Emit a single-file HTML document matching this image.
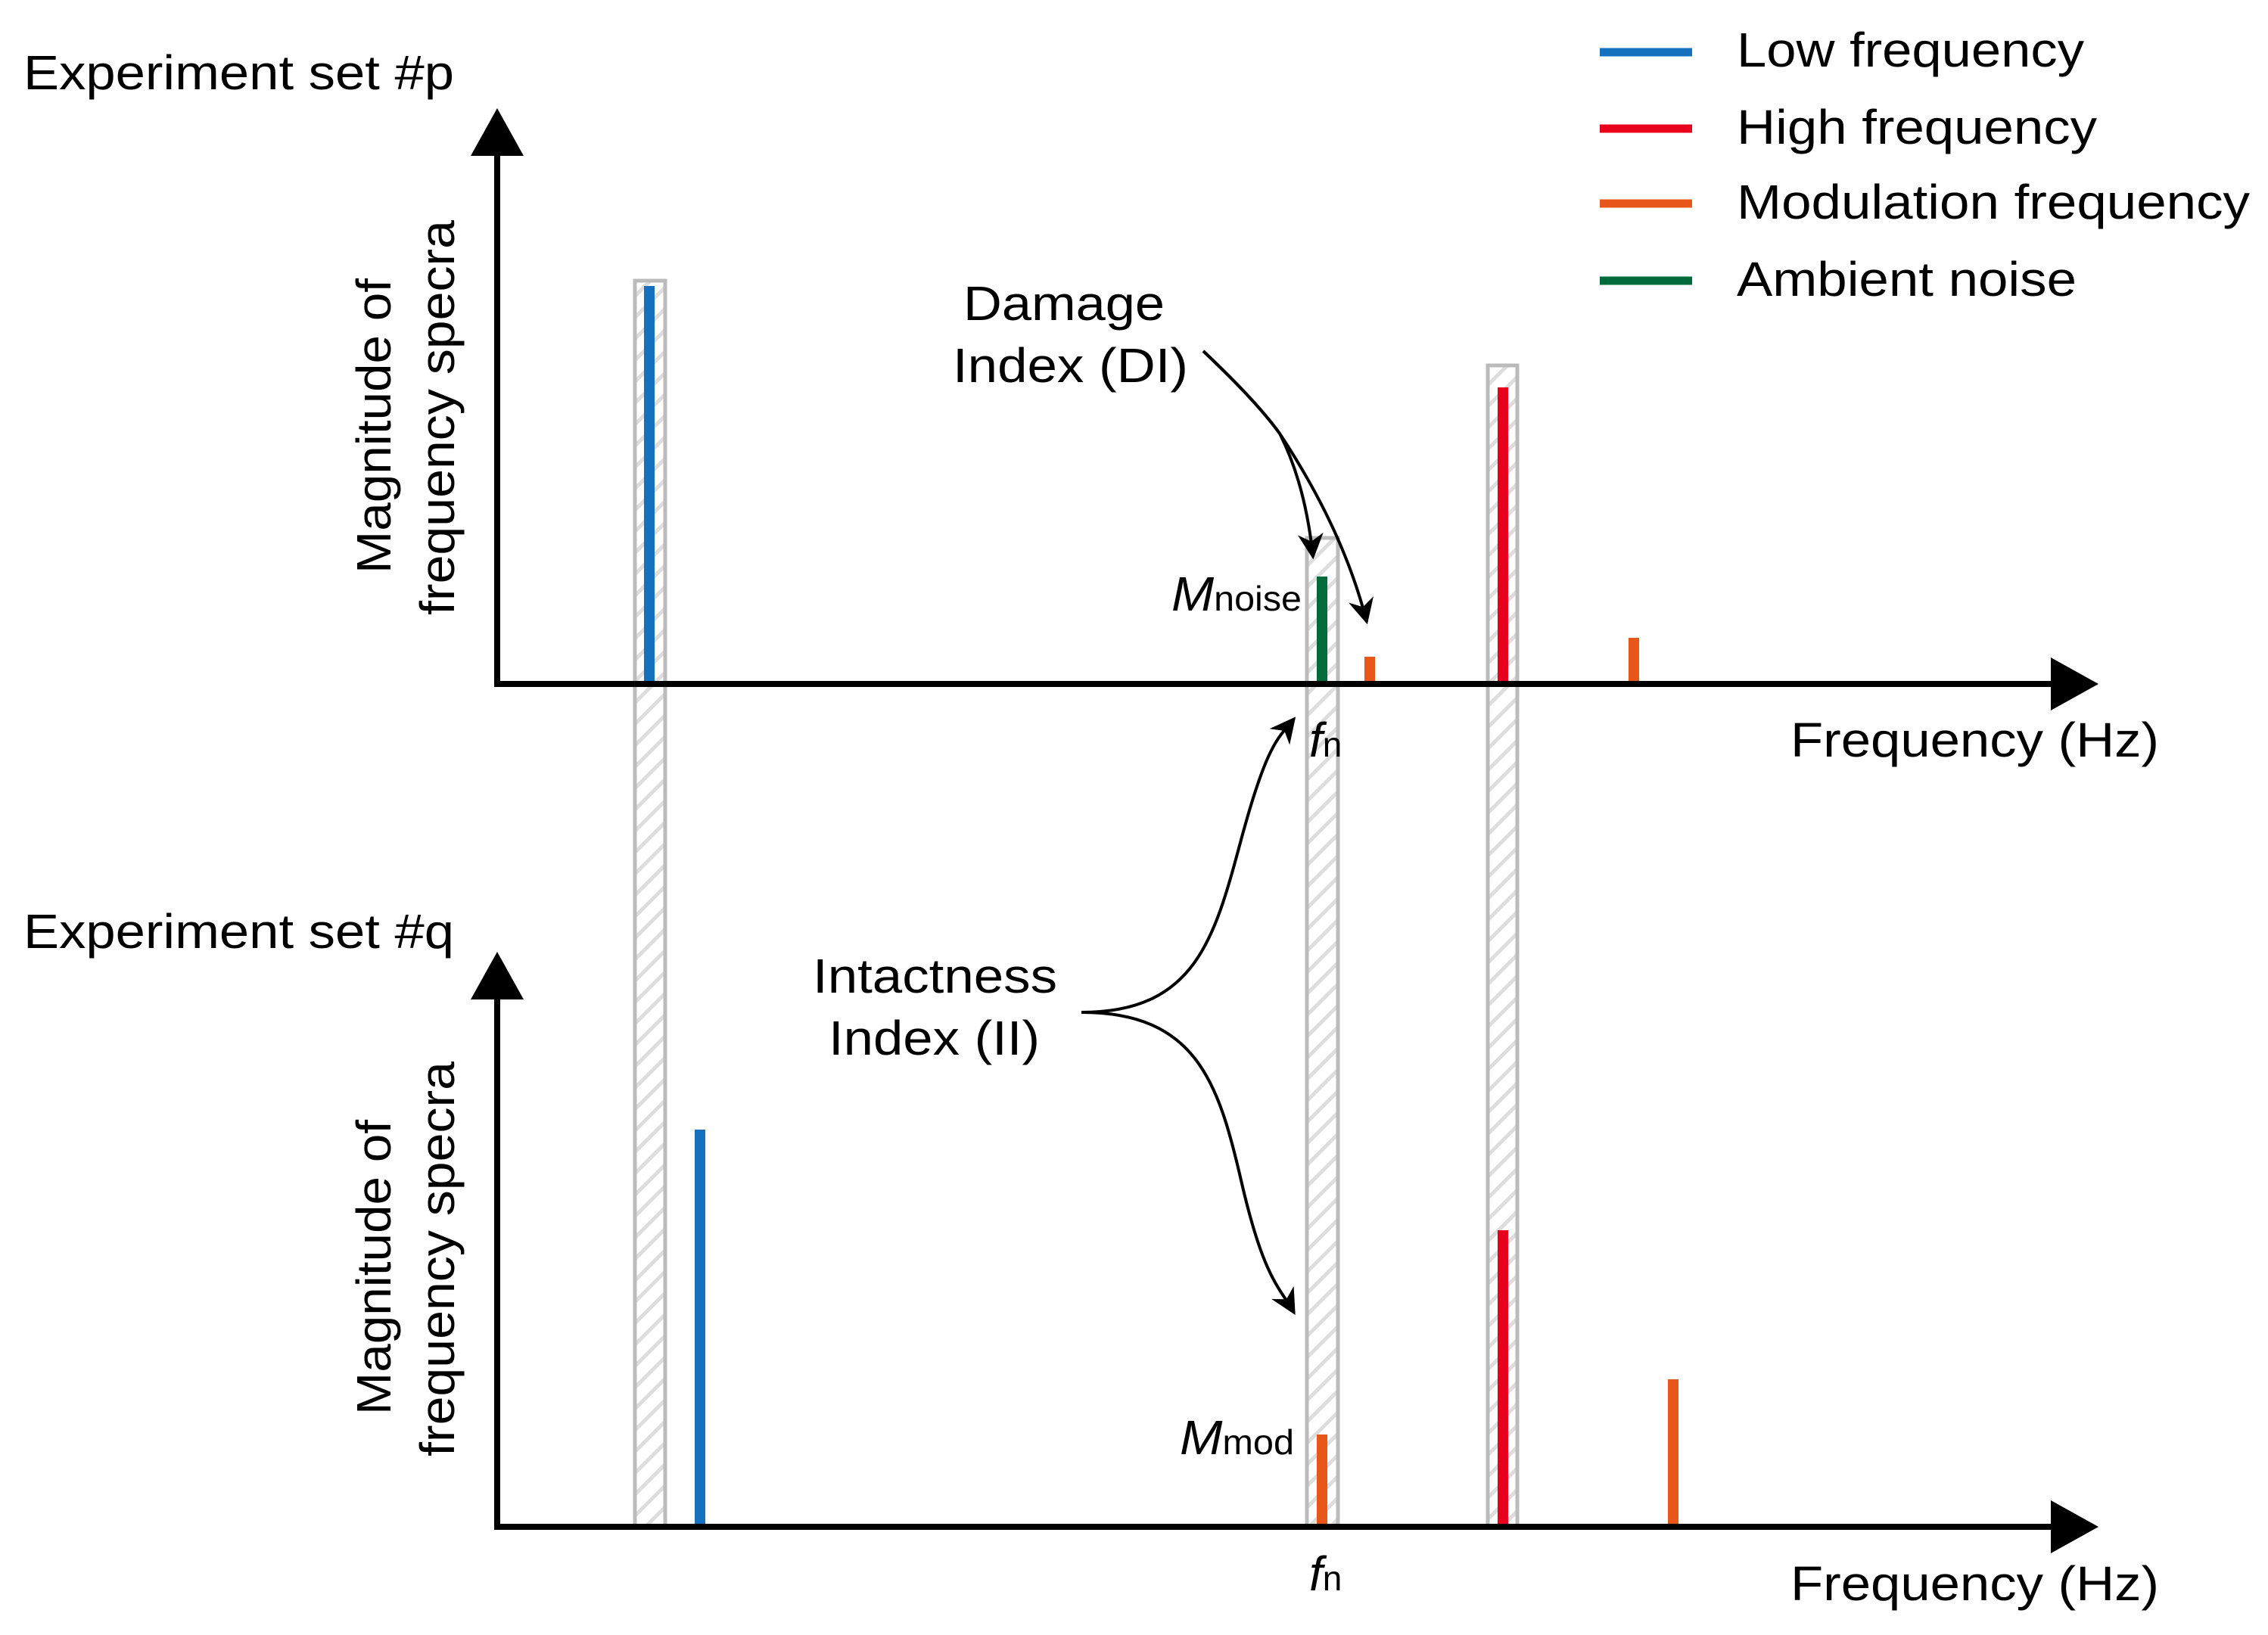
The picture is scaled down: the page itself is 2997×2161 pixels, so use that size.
<!DOCTYPE html>
<html><head><meta charset="utf-8"><style>
html,body{margin:0;padding:0;background:#fff;}
svg{display:block;}
text{font-family:"Liberation Sans",Arial,sans-serif;fill:#000;}
</style></head><body>
<svg width="2997" height="2161" viewBox="0 0 2997 2161" xmlns="http://www.w3.org/2000/svg">
<defs>
<pattern id="h" patternUnits="userSpaceOnUse" width="20" height="20" patternTransform="rotate(-45)">
<rect width="20" height="20" fill="#fff"/><line x1="0" y1="10" x2="20" y2="10" stroke="#ddd" stroke-width="5"/>
</pattern>
<marker id="a" viewBox="0 0 10 10" refX="9" refY="5" markerWidth="34" markerHeight="34" markerUnits="userSpaceOnUse" orient="auto">
<path d="M0,0 L10,5 L0,10 L3,5 z" fill="#000"/>
</marker>
</defs>
<rect x="839" y="371" width="40" height="1647" fill="url(#h)" stroke="#bbb" stroke-width="5"/>
<rect x="1727" y="711" width="41" height="1307" fill="url(#h)" stroke="#bbb" stroke-width="5"/>
<rect x="1966" y="483" width="39" height="1535" fill="url(#h)" stroke="#bbb" stroke-width="5"/>
<rect x="851" y="378" width="14" height="526" fill="#1570be"/>
<rect x="1740" y="762" width="14" height="142" fill="#006b3a"/>
<rect x="1803" y="868" width="14" height="36" fill="#e8561a"/>
<rect x="1979" y="512" width="14" height="392" fill="#e8001c"/>
<rect x="2152" y="843" width="14" height="61" fill="#e8561a"/>
<rect x="918" y="1493" width="14" height="525" fill="#1570be"/>
<rect x="1740" y="1896" width="14" height="122" fill="#e8561a"/>
<rect x="1979" y="1626" width="14" height="392" fill="#e8001c"/>
<rect x="2204" y="1823" width="14" height="195" fill="#e8561a"/>
<g stroke="#000" stroke-width="8" fill="none">
<polyline points="657,200 657,904 2715,904"/>
<polyline points="657,1315 657,2018 2715,2018"/>
</g>
<polygon points="622,206 692,206 657,143" fill="#000"/>
<polygon points="2710,869 2710,939 2773,904" fill="#000"/>
<polygon points="622,1321 692,1321 657,1258" fill="#000"/>
<polygon points="2710,1983 2710,2053 2773,2018" fill="#000"/>
<g stroke-width="11">
<line x1="2114" y1="69" x2="2236" y2="69" stroke="#1570be"/>
<line x1="2114" y1="170" x2="2236" y2="170" stroke="#e8001c"/>
<line x1="2114" y1="269" x2="2236" y2="269" stroke="#e8561a"/>
<line x1="2114" y1="371" x2="2236" y2="371" stroke="#006b3a"/>
</g>
<g font-size="64" lengthAdjust="spacingAndGlyphs">
<text x="2295" y="88" textLength="459" lengthAdjust="spacingAndGlyphs">Low frequency</text>
<text x="2295" y="190" textLength="476" lengthAdjust="spacingAndGlyphs">High frequency</text>
<text x="2295" y="289" textLength="678" lengthAdjust="spacingAndGlyphs">Modulation frequency</text>
<text x="2295" y="391" textLength="449" lengthAdjust="spacingAndGlyphs">Ambient noise</text>
<text x="31" y="118" textLength="569" lengthAdjust="spacingAndGlyphs">Experiment set #p</text>
<text x="31" y="1253" textLength="569" lengthAdjust="spacingAndGlyphs">Experiment set #q</text>
<text x="2366" y="1000" textLength="487" lengthAdjust="spacingAndGlyphs">Frequency (Hz)</text>
<text x="2366" y="2115" textLength="487" lengthAdjust="spacingAndGlyphs">Frequency (Hz)</text>
<text x="1273" y="423" textLength="266" lengthAdjust="spacingAndGlyphs">Damage</text>
<text x="1259" y="505" textLength="311" lengthAdjust="spacingAndGlyphs">Index (DI)</text>
<text x="1074" y="1312" textLength="323" lengthAdjust="spacingAndGlyphs">Intactness</text>
<text x="1095" y="1394" textLength="279" lengthAdjust="spacingAndGlyphs">Index (II)</text>
<text transform="translate(516,758) rotate(-90)" textLength="390" lengthAdjust="spacingAndGlyphs">Magnitude of</text>
<text transform="translate(600,813) rotate(-90)" textLength="522" lengthAdjust="spacingAndGlyphs">frequency specra</text>
<text transform="translate(516,1870) rotate(-90)" textLength="390" lengthAdjust="spacingAndGlyphs">Magnitude of</text>
<text transform="translate(600,1925) rotate(-90)" textLength="522" lengthAdjust="spacingAndGlyphs">frequency specra</text>
<text x="1548" y="807" textLength="172" lengthAdjust="spacingAndGlyphs"><tspan font-style="italic">M</tspan><tspan font-size="46">noise</tspan></text>
<text x="1559" y="1922" textLength="151" lengthAdjust="spacingAndGlyphs"><tspan font-style="italic">M</tspan><tspan font-size="46">mod</tspan></text>
<text x="1730" y="1000"><tspan font-style="italic">f</tspan><tspan font-size="46">n</tspan></text>
<text x="1730" y="2102"><tspan font-style="italic">f</tspan><tspan font-size="46">n</tspan></text>
</g>
<g stroke="#000" stroke-width="4" fill="none">
<path d="M1590,464 Q1660,530 1691,573 Q1725,640 1735,736" marker-end="url(#a)"/>
<path d="M1590,464 Q1660,530 1691,573 Q1775,700 1806,822" marker-end="url(#a)"/>
<path d="M1429,1338 C1580,1338 1605,1240 1640,1110 S1690,975 1710,950" marker-end="url(#a)"/>
<path d="M1429,1338 C1580,1338 1610,1430 1640,1560 S1690,1700 1710,1735" marker-end="url(#a)"/>
</g>
</svg>
</body></html>
